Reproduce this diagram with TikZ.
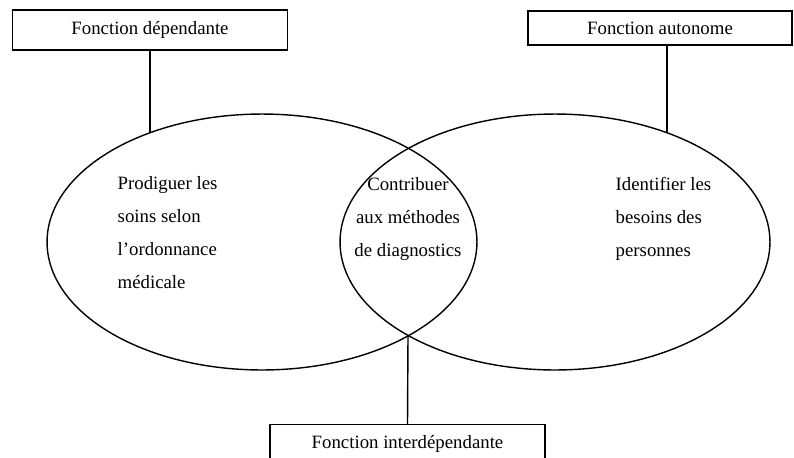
\documentclass[tikz,border=0pt]{standalone}
\usepackage{fontspec}
\setmainfont{Liberation Serif}
\usetikzlibrary{shapes.geometric}

\begin{document}
\begin{tikzpicture}[x=0.02cm,y=-0.02cm,line width=0.8pt,
  fbox/.style={draw,rectangle,inner sep=0pt,font=\fontsize{10.7}{13}\selectfont},
  venn/.style={draw,ellipse,inner sep=0pt,minimum width=8.6cm,minimum height=5.12cm},
  txt/.style={inner sep=0pt,font=\fontsize{10.7}{18.7}\selectfont}]
\useasboundingbox (0,0) rectangle (794,457);
\clip (0,0) rectangle (794,457);

% Draw the two sets
\node[venn] (left) at (262,242) {};
\node[venn] (right) at (555,242) {};

% Function boxes
\node[fbox,minimum width=5.5cm,minimum height=0.8cm] (dep) at (150,30) {Fonction dépendante};
\node[fbox,minimum width=5.28cm,minimum height=0.68cm] (auto) at (660,28) {Fonction autonome};
\node[fbox,anchor=north,minimum width=5.5cm,minimum height=0.76cm] (inter) at (407.5,424) {Fonction interdépendante};

% Points where the links meet the sets
\coordinate (ltop) at (150,133);
\coordinate (rtop) at (667,133);
\coordinate (ibot) at (408,336);

% Links
\draw (dep.south) -- (ltop);
\draw (auto.south -| rtop) -- (rtop);
\draw (ibot) -- (inter.north);

% Texts in the sets
\node[txt,anchor=north west,align=left] (soins) at (117,176) {Prodiguer les\\soins selon\\l'ordonnance\\médicale};
\node[txt,anchor=north,align=center] (diag) at (408,177) {Contribuer\\aux méthodes\\de diagnostics};
\node[txt,anchor=north west,align=left] (besoins) at (615,177) {Identifier les\\besoins des\\personnes};
\end{tikzpicture}
\end{document}
